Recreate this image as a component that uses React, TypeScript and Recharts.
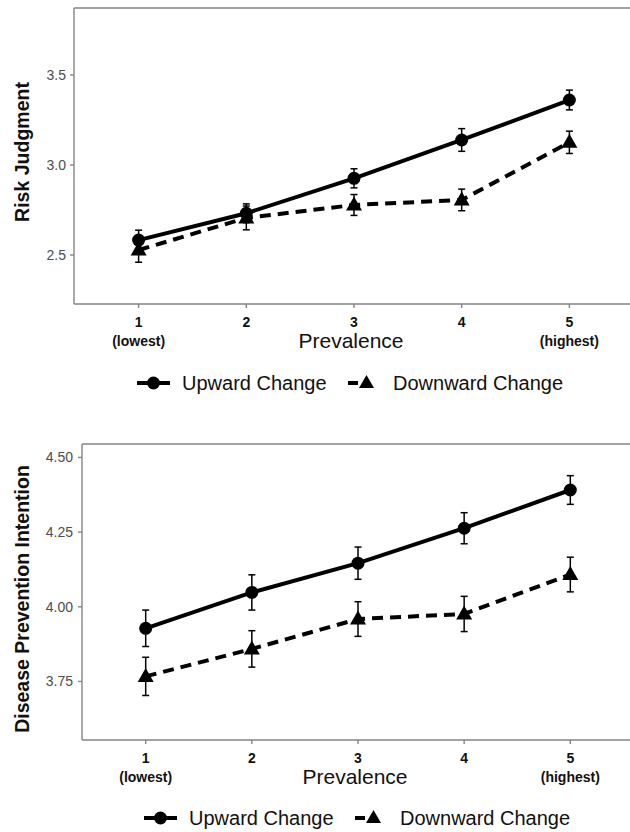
import React from 'react';
import { LineChart, Line, XAxis, YAxis, ErrorBar, ReferenceLine } from 'recharts';

const prevalence = [1, 2, 3, 4, 5];
const tickNumbers = ['1', '2', '3', '4', '5'];
const tickNotes = ['(lowest)', '', '', '', '(highest)'];
const seriesNames = ['Upward Change', 'Downward Change'];

const riskUp = [2.583, 2.732, 2.926, 3.139, 3.361];
const riskUpErr = [0.055, 0.052, 0.053, 0.063, 0.055];
const riskDown = [2.528, 2.706, 2.778, 2.806, 3.126];
const riskDownErr = [0.068, 0.066, 0.058, 0.06, 0.062];
const riskTicks = [2.5, 3.0, 3.5];

const prevUp = [3.928, 4.048, 4.146, 4.263, 4.391];
const prevUpErr = [0.061, 0.059, 0.054, 0.052, 0.048];
const prevDown = [3.767, 3.859, 3.959, 3.976, 4.108];
const prevDownErr = [0.064, 0.061, 0.058, 0.059, 0.058];
const prevTicks = [3.75, 4.0, 4.25, 4.5];

const FONT = '"Liberation Sans", Arial, Helvetica, sans-serif';
const AXIS_GRAY = '#858585';

const TriDot = (props: any) => {
  const { cx, cy, index } = props;
  if (cx == null || cy == null) return <g key={`t-${index}`} />;
  const d = `M${cx},${cy - 8.5} L${cx - 8},${cy + 5.5} L${cx + 8},${cy + 5.5} Z`;
  return <path key={`t-${index}`} d={d} fill="#000" stroke="none" />;
};

const XTick = (props: any) => {
  const { x, y, index } = props;
  return (
    <g>
      <text x={x} y={y + 17} textAnchor="middle" fontFamily={FONT} fontWeight="bold" fontSize={14} fill="#111">
        {tickNumbers[index]}
      </text>
      <text x={x} y={y + 35.5} textAnchor="middle" fontFamily={FONT} fontWeight="bold" fontSize={14} fill="#111">
        {tickNotes[index]}
      </text>
    </g>
  );
};

const XTitle = (props: any) => {
  const vb = props.viewBox || {};
  return (
    <text x={vb.x + vb.width / 2 - 3} y={vb.y + 44} textAnchor="middle" fontFamily={FONT} fontSize={21} fill="#111">
      Prevalence
    </text>
  );
};

const makeYTitle = (label: string, cy: number) => (props: any) => (
  <text
    x={29}
    y={cy}
    transform={`rotate(-90, 29, ${cy})`}
    textAnchor="middle"
    fontFamily={FONT}
    fontWeight="bold"
    fontSize={19.5}
    fill="#111"
  >
    {label}
  </text>
);

type PanelProps = {
  up: number[];
  upErr: number[];
  down: number[];
  downErr: number[];
  domain: [number, number];
  ticks: number[];
  digits: number;
  yLabel: string;
  yLabelY: number;
  yAxisWidth: number;
  tickMargin: number;
};

const Panel = (p: PanelProps) => {
  const data = prevalence.map((x, i) => ({
    x,
    up: p.up[i],
    upErr: p.upErr[i],
    down: p.down[i],
    downErr: p.downErr[i],
  }));
  return (
    <LineChart width={680} height={410} data={data} margin={{ top: 8, right: 46, bottom: 76, left: 0 }}>
      <XAxis
        dataKey="x"
        type="number"
        domain={[0.4, 5.6]}
        ticks={prevalence}
        allowDataOverflow
        height={30}
        axisLine={{ stroke: AXIS_GRAY, strokeWidth: 1.4 }}
        tickLine={{ stroke: AXIS_GRAY, strokeWidth: 1.4 }}
        tickSize={4}
        tick={<XTick />}
        label={<XTitle />}
      />
      <YAxis
        type="number"
        domain={p.domain}
        ticks={p.ticks}
        allowDataOverflow
        width={p.yAxisWidth}
        tickFormatter={(v: number) => v.toFixed(p.digits)}
        axisLine={{ stroke: AXIS_GRAY, strokeWidth: 1.4 }}
        tickLine={{ stroke: AXIS_GRAY, strokeWidth: 1.4 }}
        tickSize={4}
        tickMargin={p.tickMargin}
        tick={{ fontFamily: FONT, fontSize: 14, fill: '#4d4d4d' }}
        label={makeYTitle(p.yLabel, p.yLabelY)}
      />
      <ReferenceLine y={p.domain[1]} stroke={AXIS_GRAY} strokeWidth={1.4} ifOverflow="visible" />
      <Line
        dataKey="up"
        name={seriesNames[0]}
        stroke="#000"
        strokeWidth={4}
        isAnimationActive={false}
        dot={{ r: 6.5, fill: '#000', stroke: '#000', strokeWidth: 0 }}
        activeDot={false}
      >
        <ErrorBar dataKey="upErr" width={3.5} stroke="#000" strokeWidth={1.5} direction="y" />
      </Line>
      <Line
        dataKey="down"
        name={seriesNames[1]}
        stroke="#000"
        strokeWidth={4}
        strokeDasharray="11 7"
        isAnimationActive={false}
        dot={TriDot}
        activeDot={false}
      >
        <ErrorBar dataKey="downErr" width={3.5} stroke="#000" strokeWidth={1.5} direction="y" />
      </Line>
    </LineChart>
  );
};

const LegendRow = ({ shift }: { shift: number }) => (
  <svg width={630} height={30} style={{ display: 'block' }}>
    <g transform={`translate(${shift},0)`}>
      <line x1={137} y1={15} x2={170} y2={15} stroke="#000" strokeWidth={4} />
      <circle cx={153.5} cy={15} r={6.5} fill="#000" />
      <text x={182} y={21.5} fontFamily={FONT} fontSize={20} fill="#111">
        {seriesNames[0]}
      </text>
      <line x1={348} y1={15} x2={358} y2={15} stroke="#000" strokeWidth={4} />
      <path d="M366.5,7 L359,20 L374,20 Z" fill="#000" />
      <text x={393} y={21.5} fontFamily={FONT} fontSize={20} fill="#111">
        {seriesNames[1]}
      </text>
    </g>
  </svg>
);

export default function App() {
  return (
    <div
      style={{
        position: 'absolute',
        left: 0,
        top: 0,
        width: 630,
        height: 832,
        overflow: 'hidden',
        background: '#fff',
      }}
    >
      <div style={{ position: 'absolute', left: 0, top: 0 }}>
        <Panel
          up={riskUp}
          upErr={riskUpErr}
          down={riskDown}
          downErr={riskDownErr}
          domain={[2.228, 3.872]}
          ticks={riskTicks}
          digits={1}
          yLabel="Risk Judgment"
          yLabelY={152}
          yAxisWidth={74}
          tickMargin={4}
        />
      </div>
      <div style={{ position: 'absolute', left: 0, top: 368 }}>
        <LegendRow shift={0} />
      </div>
      <div style={{ position: 'absolute', left: 0, top: 435.5 }}>
        <Panel
          up={prevUp}
          upErr={prevUpErr}
          down={prevDown}
          downErr={prevDownErr}
          domain={[3.554, 4.545]}
          ticks={prevTicks}
          digits={2}
          yLabel="Disease Prevention Intention"
          yLabelY={163}
          yAxisWidth={82}
          tickMargin={5}
        />
      </div>
      <div style={{ position: 'absolute', left: 0, top: 803 }}>
        <LegendRow shift={7} />
      </div>
    </div>
  );
}
